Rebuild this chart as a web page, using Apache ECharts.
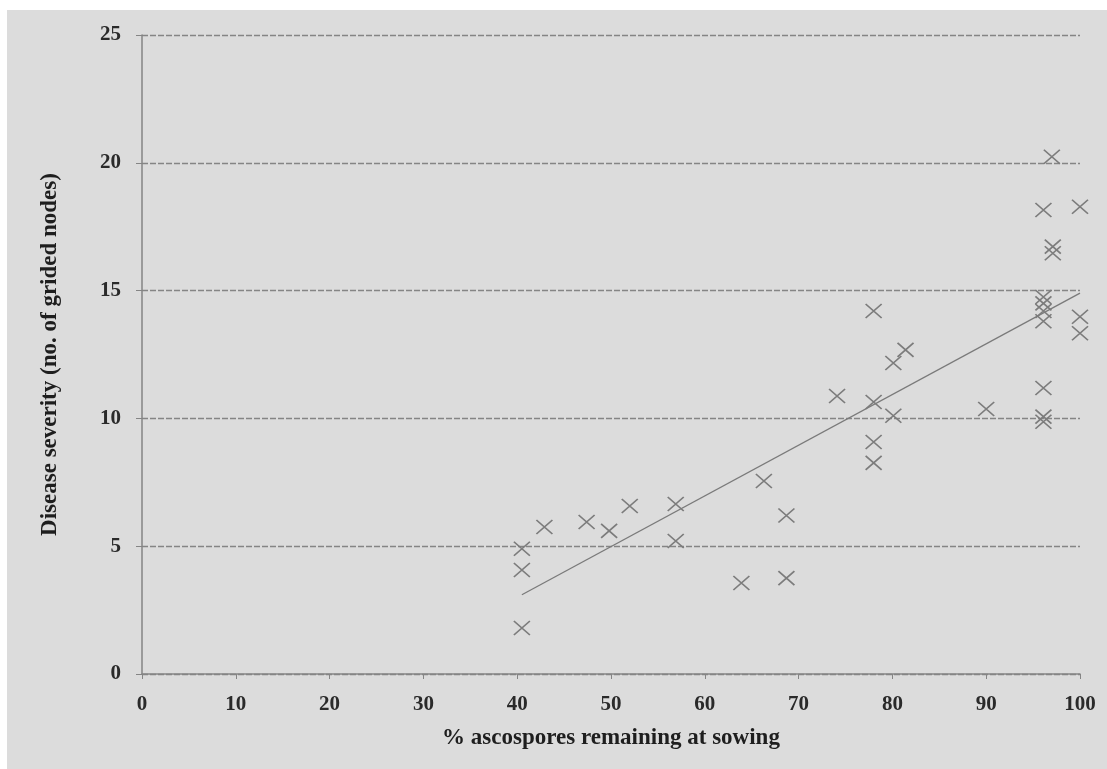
<!DOCTYPE html>
<html>
<head>
<meta charset="utf-8">
<script src="https://cdn.jsdelivr.net/npm/echarts@6/dist/echarts.min.js"></script>
<style>
html,body{margin:0;padding:0;background:#ffffff;}
#chart{width:1107px;height:769px;}
</style>
</head>
<body>
<div id="chart"></div>
<script>
// % ascospores remaining at sowing
var pointX = [40.5, 40.5, 40.5, 42.9, 47.4, 49.8, 52.0, 56.9, 56.9, 63.9, 66.3, 68.7, 68.7, 74.1,
              78.0, 78.0, 78.0, 78.0, 80.1, 80.1, 81.4, 90.0,
              96.1, 96.1, 96.1, 96.1, 96.1, 96.1, 96.1, 96.1,
              97.0, 97.1, 97.1, 100, 100, 100];
// Disease severity (no. of grided nodes)
var pointY = [4.9, 4.07, 1.8, 5.75, 5.95, 5.6, 6.57, 6.65, 5.2, 3.56, 7.55, 6.2, 3.75, 10.88,
              14.2, 10.64, 9.08, 8.26, 12.17, 10.1, 12.68, 10.37,
              18.15, 14.75, 14.5, 14.2, 13.8, 11.19, 10.07, 9.87,
              20.24, 16.72, 16.46, 18.28, 13.98, 13.33];
// trend line end points
var trendX = [40.5, 100];
var trendY = [3.1, 14.9];
var xTicks = [0, 10, 20, 30, 40, 50, 60, 70, 80, 90, 100];
var yTicks = [0, 5, 10, 15, 20, 25];

var points = pointX.map(function (x, i) { return [x, pointY[i]]; });
var trend = trendX.map(function (x, i) { return [x, trendY[i]]; });

var chart = echarts.init(document.getElementById('chart'));
var serif = '"Liberation Serif", "Times New Roman", serif';
var tickFont = {fontFamily: serif, fontWeight: 'bold', fontSize: 21, color: '#2a2a2a'};
var titleFont = {fontFamily: serif, fontWeight: 'bold', fontSize: 23, color: '#1e1e1e'};
chart.setOption({
  animation: false,
  backgroundColor: '#ffffff',
  graphic: [{
    type: 'rect', z: -10, silent: true,
    shape: {x: 7, y: 10, width: 1100, height: 759},
    style: {fill: '#dcdcdc'}
  }],
  grid: {left: 142, right: 27, top: 35, bottom: 95, containLabel: false},
  xAxis: {
    type: 'value', min: xTicks[0], max: xTicks[xTicks.length - 1], interval: 10,
    name: '% ascospores remaining at sowing',
    nameLocation: 'middle', nameGap: 53,
    nameTextStyle: titleFont,
    axisLine: {show: true, lineStyle: {color: '#858585', width: 1.5}},
    axisTick: {show: true, length: 5, lineStyle: {color: '#858585'}},
    axisLabel: Object.assign({margin: 20}, tickFont),
    splitLine: {show: false}
  },
  yAxis: {
    type: 'value', min: yTicks[0], max: yTicks[yTicks.length - 1], interval: 5,
    name: 'Disease severity (no. of grided nodes)',
    nameLocation: 'middle', nameGap: 80,
    nameTextStyle: titleFont,
    axisLine: {show: true, lineStyle: {color: '#858585', width: 1.5}},
    axisTick: {show: true, length: 6, lineStyle: {color: '#858585'}},
    axisLabel: Object.assign({margin: 21}, tickFont),
    splitLine: {show: true, lineStyle: {color: '#858585', width: 1.4, type: [6, 2]}}
  },
  series: [{
    type: 'line', data: trend, symbol: 'none', silent: true,
    lineStyle: {color: '#7a7a7a', width: 1.3}, z: 3
  }, {
    type: 'scatter', data: points,
    symbol: 'path://M0,0L10,10M10,0L0,10',
    symbolSize: [16, 14],
    itemStyle: {color: 'none', borderColor: '#7c7c7c', borderWidth: 1.6, opacity: 1},
    z: 4
  }]
});
</script>
</body>
</html>
